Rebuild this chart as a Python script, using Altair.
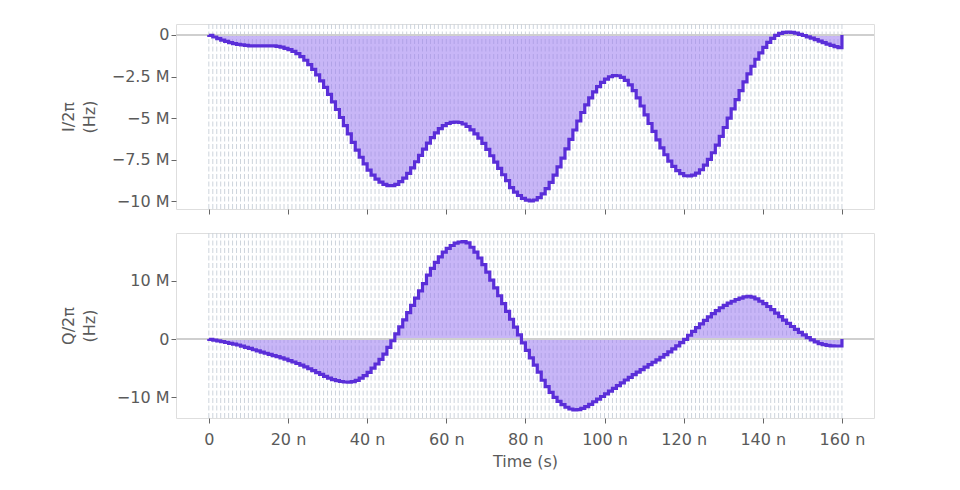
import altair as alt
import pandas as pd

# sample index (1 ns per sample)
t_ns = list(range(160))

# I/2pi in MHz, one value per sample
i_mhz = [
    -0.02, -0.12, -0.22, -0.31, -0.39, -0.46, -0.52, -0.57, -0.60, -0.63,
    -0.65, -0.66, -0.66, -0.66, -0.65, -0.65, -0.65, -0.68, -0.73, -0.80,
    -0.88, -0.98, -1.12, -1.30, -1.52, -1.78, -2.07, -2.40, -2.76, -3.15,
    -3.57, -4.02, -4.48, -4.96, -5.45, -5.95, -6.45, -6.92, -7.35, -7.75,
    -8.12, -8.42, -8.66, -8.85, -8.98, -9.05, -9.05, -8.98, -8.82, -8.60,
    -8.32, -7.99, -7.62, -7.24, -6.86, -6.50, -6.17, -5.88, -5.63, -5.45,
    -5.32, -5.25, -5.23, -5.26, -5.35, -5.50, -5.70, -5.95, -6.20, -6.52,
    -6.88, -7.26, -7.64, -8.02, -8.40, -8.76, -9.17, -9.44, -9.65, -9.82,
    -9.93, -9.97, -9.92, -9.78, -9.55, -9.24, -8.86, -8.42, -7.93, -7.40,
    -6.84, -6.27, -5.71, -5.17, -4.66, -4.20, -3.78, -3.42, -3.11, -2.85,
    -2.65, -2.51, -2.44, -2.45, -2.55, -2.73, -3.00, -3.35, -3.78, -4.27,
    -4.80, -5.32, -5.80, -6.30, -6.78, -7.20, -7.58, -7.90, -8.15, -8.33,
    -8.46, -8.47, -8.42, -8.30, -8.10, -7.82, -7.48, -7.08, -6.62, -6.10,
    -5.56, -5.00, -4.44, -3.88, -3.34, -2.82, -2.34, -1.88, -1.46, -1.08,
    -0.74, -0.44, -0.20, -0.02, 0.10, 0.16, 0.18, 0.16, 0.11, 0.04,
    -0.03, -0.11, -0.19, -0.28, -0.37, -0.46, -0.55, -0.63, -0.70, -0.76,
]

# Q/2pi in MHz, one value per sample
q_mhz = [
    -0.05, -0.18, -0.32, -0.46, -0.60, -0.74, -0.88, -1.03, -1.23, -1.43,
    -1.63, -1.85, -2.05, -2.25, -2.45, -2.65, -2.85, -3.05, -3.26, -3.48,
    -3.72, -3.96, -4.22, -4.50, -4.80, -5.12, -5.45, -5.78, -6.10, -6.42,
    -6.72, -6.98, -7.18, -7.32, -7.40, -7.42, -7.35, -7.12, -6.75, -6.30,
    -5.75, -5.00, -4.30, -3.50, -2.60, -1.45, -0.30, 0.90, 2.10, 3.30,
    4.55, 5.80, 7.05, 8.30, 9.55, 11.00, 12.15, 13.20, 14.15, 14.95,
    15.60, 16.10, 16.50, 16.70, 16.75, 16.55, 15.80, 14.95, 13.95, 12.80,
    11.50, 10.15, 8.80, 7.45, 6.10, 4.75, 3.40, 2.05, 0.70, -0.65,
    -1.95, -3.25, -4.50, -5.70, -7.10, -8.20, -9.20, -10.05, -10.75, -11.30,
    -11.75, -12.05, -12.20, -12.15, -11.95, -11.65, -11.25, -10.80, -10.35, -9.90,
    -9.45, -8.98, -8.50, -8.02, -7.54, -7.06, -6.60, -6.14, -5.70, -5.26,
    -4.84, -4.42, -4.00, -3.58, -3.14, -2.68, -2.20, -1.70, -1.18, -0.62,
    -0.05, 0.65, 1.30, 1.95, 2.60, 3.22, 3.82, 4.38, 4.90, 5.38,
    5.80, 6.18, 6.50, 6.80, 7.05, 7.25, 7.36, 7.20, 6.90, 6.50,
    6.10, 5.60, 5.05, 4.45, 3.85, 3.25, 2.70, 2.15, 1.65, 1.15,
    0.70, 0.25, -0.15, -0.50, -0.78, -0.98, -1.10, -1.17, -1.20, -1.20,
]

x_ticks = [0, 20, 40, 60, 80, 100, 120, 140, 160]
i_ticks = [0, -2.5, -5, -7.5, -10]
q_ticks = [10, 0, -10]
grid_t = list(range(161))

LINE = "#5a2ed8"
FILL = "#9b7af0"
TXT = "#5a5a5a"
W, H = 698, 185

x_dom = [-8.3, 168.1]
i_dom = [-10.46, 0.66]
q_dom = [-13.6, 18.25]


def line_frame(vals):
    rows = [{"idx": 0, "t": 0, "v": 0.0}]
    for k, (t, v) in enumerate(zip(t_ns, vals)):
        rows.append({"idx": k + 1, "t": t, "v": v})
    rows.append({"idx": len(vals) + 1, "t": 160, "v": vals[-1]})
    rows.append({"idx": len(vals) + 2, "t": 160, "v": 0.0})
    return pd.DataFrame(rows)


def area_frame(vals):
    rows = [{"t": t, "v": v} for t, v in zip(t_ns, vals)]
    rows.append({"t": 160, "v": vals[-1]})
    return pd.DataFrame(rows)


grid_df = pd.DataFrame({"t": grid_t})

y_label = "datum.value == 0 ? '0' : format(datum.value, '~g') + ' M'"
x_label = "datum.value == 0 ? '0' : format(datum.value, '~g') + ' n'"


def panel(vals, ydom, yticks, title, show_x):
    xscale = alt.Scale(domain=x_dom, nice=False, zero=False)
    yscale = alt.Scale(domain=ydom, nice=False, zero=False)
    if show_x:
        xaxis = alt.Axis(values=x_ticks, labelExpr=x_label, title="Time (s)",
                         labelPadding=8, titlePadding=6)
    else:
        xaxis = alt.Axis(values=x_ticks, labels=False, title=None)
    yaxis = alt.Axis(values=yticks, labelExpr=y_label, title=title,
                     titleX=-100, titleY=H / 2, titleAngle=270,
                     titleBaseline="bottom", titleLineHeight=21)

    grid = alt.Chart(grid_df).mark_rule(
        color="#cdd4dc", strokeWidth=1, strokeDash=[5, 2.5]
    ).encode(x=alt.X("t:Q", scale=xscale, axis=xaxis))

    area = alt.Chart(area_frame(vals)).mark_area(
        interpolate="step-after", color=FILL, opacity=0.55
    ).encode(
        x=alt.X("t:Q", scale=xscale),
        y=alt.Y("v:Q", scale=yscale, axis=yaxis),
        y2=alt.datum(0),
    )

    zero = alt.Chart(grid_df).mark_rule(color="#cfcfcf", strokeWidth=1.5).encode(
        y=alt.datum(0)
    )

    line = alt.Chart(line_frame(vals)).mark_line(
        interpolate="step-after", color=LINE, strokeWidth=3.2,
        strokeJoin="miter", strokeCap="butt"
    ).encode(
        x=alt.X("t:Q", scale=xscale),
        y=alt.Y("v:Q", scale=yscale),
        order="idx:Q",
    )

    return alt.layer(grid, area, zero, line).properties(width=W, height=H)


top = panel(i_mhz, i_dom, i_ticks, ["I/2π", "(Hz)"], False)
bottom = panel(q_mhz, q_dom, q_ticks, ["Q/2π", "(Hz)"], True)

chart = alt.vconcat(top, bottom, spacing=17).properties(
    padding={"left": 51, "top": 15, "right": 10, "bottom": 5}
).configure_view(
    stroke="#dedede", strokeWidth=1
).configure_axis(
    grid=False, domain=False,
    labelFont="DejaVu Sans", labelFontSize=16, labelColor=TXT,
    titleFont="DejaVu Sans", titleFontSize=16, titleColor=TXT,
    titleFontWeight="normal",
    tickColor="#666666", tickSize=5, tickWidth=1,
)

chart.save("out.html", embed_options={"renderer": "svg", "actions": False})
